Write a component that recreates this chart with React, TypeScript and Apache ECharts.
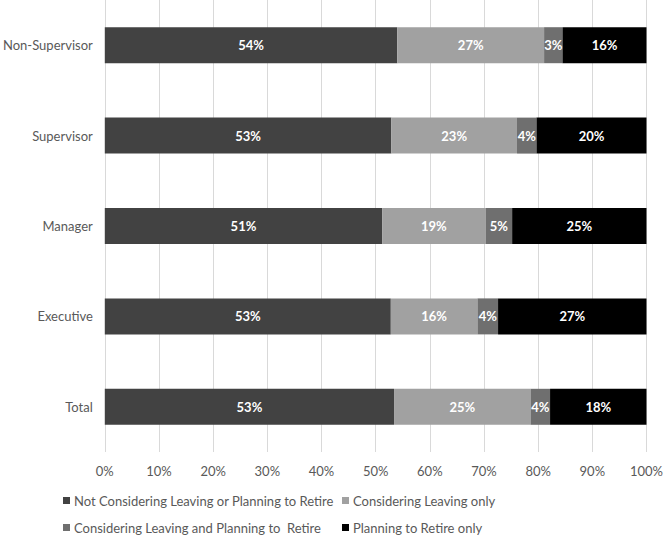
import React, { useEffect, useRef } from "react";
import * as echarts from "echarts";

const categories = ["Non-Supervisor", "Supervisor", "Manager", "Executive", "Total"];
const seriesNames = [
  "Not Considering Leaving or Planning to Retire",
  "Considering Leaving only",
  "Considering Leaving and Planning to  Retire",
  "Planning to Retire only",
];
const notConsidering = [54.0, 52.9, 51.2, 52.8, 53.4];
const consideringOnly = [27.1, 23.2, 19.1, 16.0, 25.2];
const consideringAndRetire = [3.4, 3.6, 4.9, 3.8, 3.6];
const retireOnly = [15.5, 20.3, 24.8, 27.4, 17.8];
const colors = ["#424242", "#a1a1a1", "#6f6f6f", "#000000"];
const xTicks = [0, 10, 20, 30, 40, 50, 60, 70, 80, 90, 100];

const FONT = "Lato, 'Open Sans', sans-serif";
const TEXT = "#595959";

export default function App() {
  const ref = useRef<HTMLDivElement>(null);
  useEffect(() => {
    if (!ref.current) return;
    const chart = echarts.init(ref.current, undefined, { renderer: "svg" });
    const values = [notConsidering, consideringOnly, consideringAndRetire, retireOnly];
    const legendPos = [
      { left: 63, top: 494 },
      { left: 342, top: 494 },
      { left: 63, top: 521 },
      { left: 342, top: 521 },
    ];
    chart.setOption({
      animation: false,
      textStyle: { fontFamily: FONT },
      grid: { left: 102, right: 16, top: 0, bottom: 83, containLabel: false },
      legend: seriesNames.map((n, i) => ({
        data: [n],
        left: legendPos[i].left,
        top: legendPos[i].top,
        icon: "rect",
        itemWidth: 7,
        itemHeight: 7,
        itemGap: 4,
        padding: 0,
        selectedMode: false,
        textStyle: { color: TEXT, fontSize: 13, fontFamily: FONT, padding: [0, 0, 0, -1] },
      })),
      xAxis: {
        type: "value",
        min: 0,
        max: 100,
        interval: 10,
        axisLine: { show: false },
        axisTick: { show: false },
        splitLine: { show: true, lineStyle: { color: "#d9d9d9", width: 1 } },
        axisLabel: {
          color: TEXT,
          fontSize: 13,
          fontFamily: FONT,
          margin: 12,
          formatter: (v: number) => (xTicks.includes(v) ? v + "%" : ""),
        },
      },
      yAxis: {
        type: "category",
        data: categories,
        inverse: true,
        axisLine: { show: false },
        axisTick: { show: false },
        splitLine: { show: false },
        axisLabel: { color: TEXT, fontSize: 13, fontFamily: FONT, margin: 12 },
      },
      series: seriesNames.map((n, i) => ({
        name: n,
        type: "bar",
        stack: "total",
        barWidth: 36,
        data: values[i],
        itemStyle: { color: colors[i] },
        label: {
          show: true,
          position: "inside",
          color: "#ffffff",
          fontWeight: "bold",
          fontSize: 13,
          fontFamily: FONT,
          formatter: (p: any) => Math.round(p.value) + "%",
        },
      })),
    });
    return () => chart.dispose();
  }, []);
  return <div ref={ref} style={{ width: 666, height: 535, position: "absolute", left: 0, top: 0 }} />;
}
